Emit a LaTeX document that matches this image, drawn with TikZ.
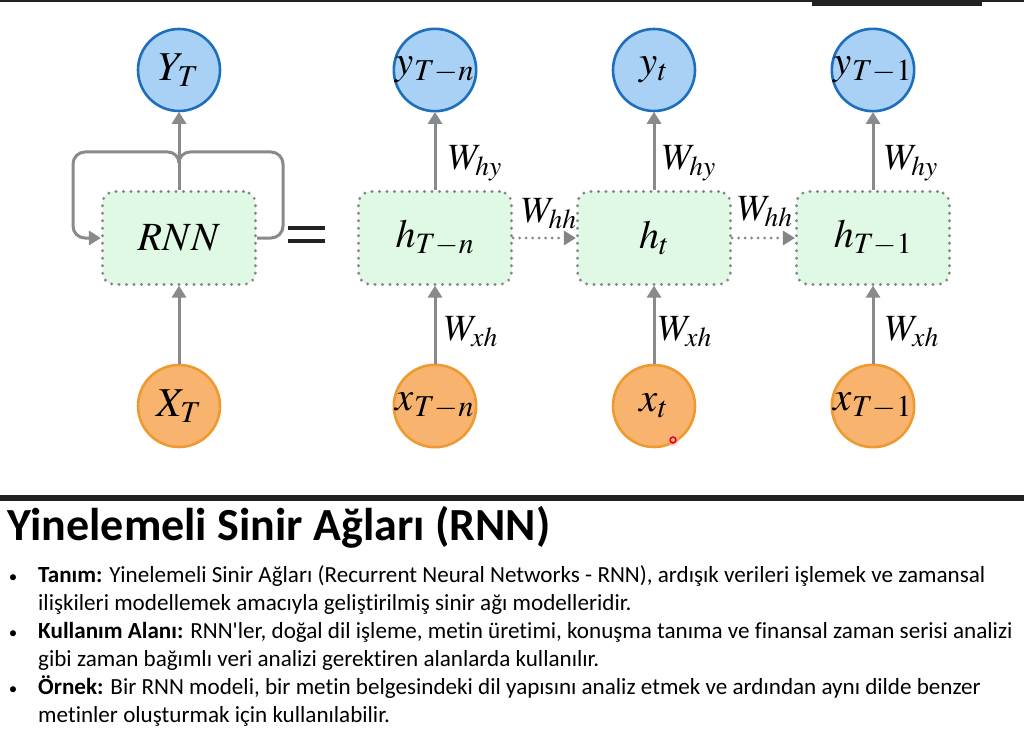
\documentclass[tikz,border=0pt]{standalone}
\usepackage{mathptmx}
\usepackage[no-math]{fontspec}
\setmainfont{Carlito}[Ligatures=NoCommon]
\newfontfamily\plainq{Carlito}
\usetikzlibrary{arrows.meta}

\definecolor{ink}{HTML}{222222}
\definecolor{outfill}{HTML}{A9D1F5}
\definecolor{outline}{HTML}{1E6EBE}
\definecolor{infill}{HTML}{F8B36E}
\definecolor{inline}{HTML}{EE9A30}
\definecolor{cellfill}{HTML}{E0F9E4}
\definecolor{dotgray}{HTML}{858585}
\definecolor{flowgray}{HTML}{888A8C}

\tikzset{
  outnode/.style={circle, draw=outline, fill=outfill, line width=2.6pt,
    minimum size=82pt, inner sep=0pt, font=\fontsize{41}{44}\selectfont},
  innode/.style={circle, draw=inline, fill=infill, line width=2.6pt,
    minimum size=82pt, inner sep=0pt, font=\fontsize{41}{44}\selectfont},
  cell/.style={rectangle, rounded corners=12pt, draw=dotgray, fill=cellfill,
    line width=3.2pt, dash pattern=on 0pt off 7.5pt, line cap=round,
    minimum width=153pt, minimum height=93pt, inner sep=0pt,
    font=\fontsize{40}{44}\selectfont},
  tip/.style={-{Triangle[length=12pt,width=14pt]}},
  flow/.style={draw=flowgray, line width=3pt, tip, shorten >=-0.5pt},
  hflow/.style={draw=dotgray, line width=3.2pt, dash pattern=on 0pt off 6.5pt,
    line cap=round, -{Triangle[length=12pt,width=14pt,line cap=butt]}},
  loopline/.style={draw=flowgray, line width=3pt, rounded corners=12pt},
  wlabel/.style={inner sep=0pt, font=\fontsize{37}{40}\selectfont},
  body/.style={inner sep=0pt, anchor=base west, font=\fontsize{23.1}{27}\selectfont},
  bullet/.style={inner sep=0pt, anchor=base, font=\fontsize{17}{20}\selectfont},
}

\begin{document}
\begin{tikzpicture}[x=1pt,y=-1pt]
\useasboundingbox[fill=white] (0,0) rectangle (1024,751);

% top edge of the window
\fill[ink] (0,0) rectangle (1024,2);
\fill[ink] (812,0) rectangle (982,6);

% folded network
\node[outnode] (yT) at (179,70) {$Y_T$};
\node[cell]    (rnn) at (179,238) {$RNN$};
\node[innode]  (xT) at (179,406) {$X_T$};
\draw[flow] (xT) -- (rnn);
\draw[flow] (rnn) -- (yT);

% recurrent loop around the cell
\coordinate (jB) at (179,163);
\coordinate (jR) at (190,152);
\coordinate (jL) at (168,152);
\coordinate (cTR) at (283,152);
\coordinate (cBR) at (283,238);
\coordinate (cTL) at (73,152);
\coordinate (cBL) at (73,238);
\draw[loopline] (rnn.east) -- (cBR) -- (cTR) -- (jR);
\draw[draw=flowgray, line width=3pt] (jR) to[out=180,in=90] (jB);
\draw[draw=flowgray, line width=3pt] (jB) to[out=90,in=0] (jL);
\draw[loopline, tip] (jL) -- (cTL) -- (cBL) -- (rnn.west);

% equals sign
\fill[ink] (288,226) rectangle (325,230);
\fill[ink] (288,239) rectangle (325,243);

% unrolled network
\node[outnode] (y1) at (435,70) {$y_{T-n}$};
\node[cell]    (h1) at (435,238) {$h_{T-n}$};
\node[innode]  (x1) at (435,406) {$x_{T-n}$};

\node[outnode] (y2) at (654,70) {$y_t$};
\node[cell]    (h2) at (654,238) {$h_t$};
\node[innode]  (x2) at (654,406) {$x_t$};

\node[outnode] (y3) at (873,70) {$y_{T-1}$};
\node[cell]    (h3) at (873,238) {$h_{T-1}$};
\node[innode]  (x3) at (873,406) {$x_{T-1}$};

\foreach \c in {1,2,3}{
  \draw[flow] (x\c) -- (h\c);
  \draw[flow] (h\c) -- (y\c);
}
\draw[hflow] (h1) -- (h2);
\draw[hflow] (h2) -- (h3);

% weight labels
\node[wlabel, anchor=west] (why1) at (448,163) {$W_{hy}$};
\node[wlabel, anchor=west] (why2) at (662,163) {$W_{hy}$};
\node[wlabel, anchor=west] (why3) at (884,163) {$W_{hy}$};
\node[wlabel, anchor=west] (wxh1) at (444,332) {$W_{xh}$};
\node[wlabel, anchor=west] (wxh2) at (658,332) {$W_{xh}$};
\node[wlabel, anchor=west] (wxh3) at (885,332) {$W_{xh}$};
\node[wlabel] (whh1) at (549,214) {$W_{hh}$};
\node[wlabel] (whh2) at (765,212) {$W_{hh}$};

% pointer mark
\fill[red!35, opacity=0.45] (673,440) circle (6);
\draw[red!85!black, line width=1.4pt] (673,440) circle (3);

% separator
\fill[ink] (0,495) rectangle (1024,501);

% title and notes
\node[inner sep=0pt, anchor=base west, font=\bfseries\fontsize{46}{52}\selectfont]
  (title) at (7,540) {Yinelemeli Sinir Ağları (RNN)};

\node[bullet] (b1) at (13,582) {•};
\node[body] (l1) at (38,582) {\textbf{Tanım:} Yinelemeli Sinir Ağları (Recurrent Neural Networks - RNN), ardışık verileri işlemek ve zamansal};
\node[body] (l2) at (38,610) {ilişkileri modellemek amacıyla geliştirilmiş sinir ağı modelleridir.};
\node[bullet] (b2) at (13,638) {•};
\node[body] (l3) at (38,638) {\textbf{Kullanım Alanı:} RNN{\plainq'}ler, doğal dil işleme, metin üretimi, konuşma tanıma ve finansal zaman serisi analizi};
\node[body] (l4) at (38,666) {gibi zaman bağımlı veri analizi gerektiren alanlarda kullanılır.};
\node[bullet] (b3) at (13,694) {•};
\node[body] (l5) at (38,694) {\textbf{Örnek:} Bir RNN modeli, bir metin belgesindeki dil yapısını analiz etmek ve ardından aynı dilde benzer};
\node[body] (l6) at (38,722) {metinler oluşturmak için kullanılabilir.};
\end{tikzpicture}
\end{document}
